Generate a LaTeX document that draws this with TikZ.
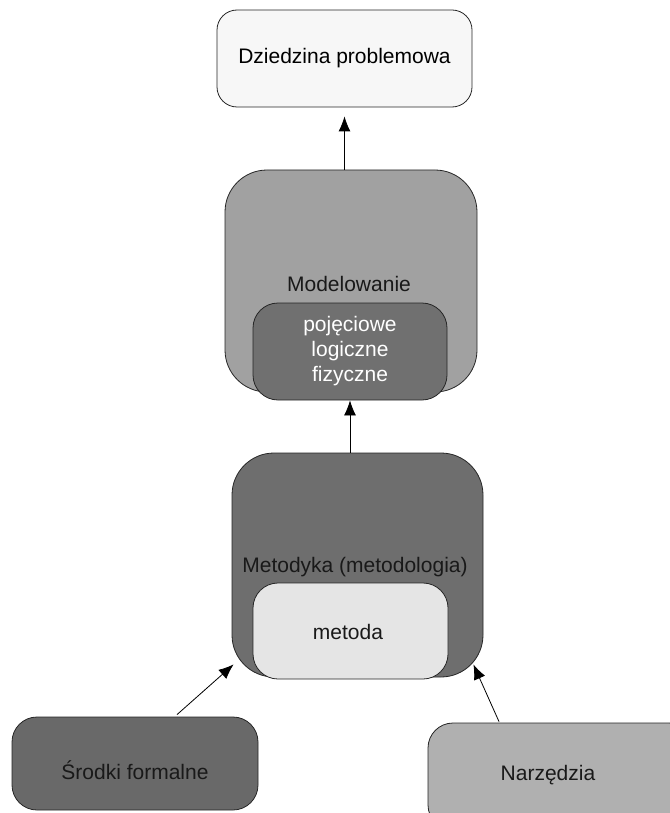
\documentclass[tikz,border=0pt]{standalone}
\usepackage{fontspec}
\setmainfont{Liberation Sans}
\usetikzlibrary{arrows.meta, positioning}

\begin{document}
\begin{tikzpicture}[x=1pt, y=-1pt,
    box/.style={draw=black!85, line width=0.8pt, inner sep=0pt, font=\fontsize{21}{25}\selectfont},
    txt/.style={inner sep=0pt, text=black!90, font=\fontsize{21}{25}\selectfont},
    arr/.style={-{Latex[length=15pt, width=12pt]}, line width=0.8pt}]
    \useasboundingbox (0,0) rectangle (669,813);

    % Top box
    \node[box, fill=black!3, rounded corners=20pt, minimum width=255pt, minimum height=97pt] (dziedzina) at (344.5,58.5) {Dziedzina problemowa};

    % Modelowanie with inner box
    \node[box, fill=black!37, rounded corners=42pt, minimum width=252pt, minimum height=222pt] (modelowanie) at (351,281) {};
    \node[txt] (modelowanietxt) at (349,284) {Modelowanie};
    \node[box, fill=black!56, rounded corners=25pt, minimum width=194pt, minimum height=97pt, text=white, align=center] (pojeciowe) at (350,351.5) {poj\k{e}ciowe\\logiczne\\fizyczne};

    % Metodyka with inner box
    \node[box, fill=black!57, rounded corners=42pt, minimum width=251pt, minimum height=224pt] (metodyka) at (357.5,565) {};
    \node[txt] (metodykatxt) at (355,567) {Metodyka (metodologia)};
    \node[box, fill=black!10, rounded corners=25pt, minimum width=195pt, minimum height=96pt] (metoda) at (350.5,631) {};
    \node[txt] (metodatxt) at (348,632) {metoda};

    % Bottom boxes
    \node[box, fill=black!59, rounded corners=25pt, minimum width=246pt, minimum height=93pt] (srodki) at (135,763.5) {};
    \node[txt] (srodkitxt) at (135,770) {Środki formalne};
    \node[box, fill=black!31, rounded corners=25pt, minimum width=266pt, minimum height=107pt] (narzedzia) at (561,776.5) {};
    \node[txt] (narzedziatxt) at (548,775) {Narzędzia};

    % Arrows
    \draw[arr, shorten >=9pt] (dziedzina.south |- modelowanie.north) -- (dziedzina.south);
    \draw[arr] (pojeciowe.south |- metodyka.north) -- (pojeciowe.south);
    \draw[arr] ([shift={(42,-2)}]srodki.north) -- ([shift={(2,-13)}]metodyka.south west);
    \draw[arr] ([shift={(-62,-1)}]narzedzia.north) -- ([shift={(-10,-13)}]metodyka.south east);
\end{tikzpicture}
\end{document}
